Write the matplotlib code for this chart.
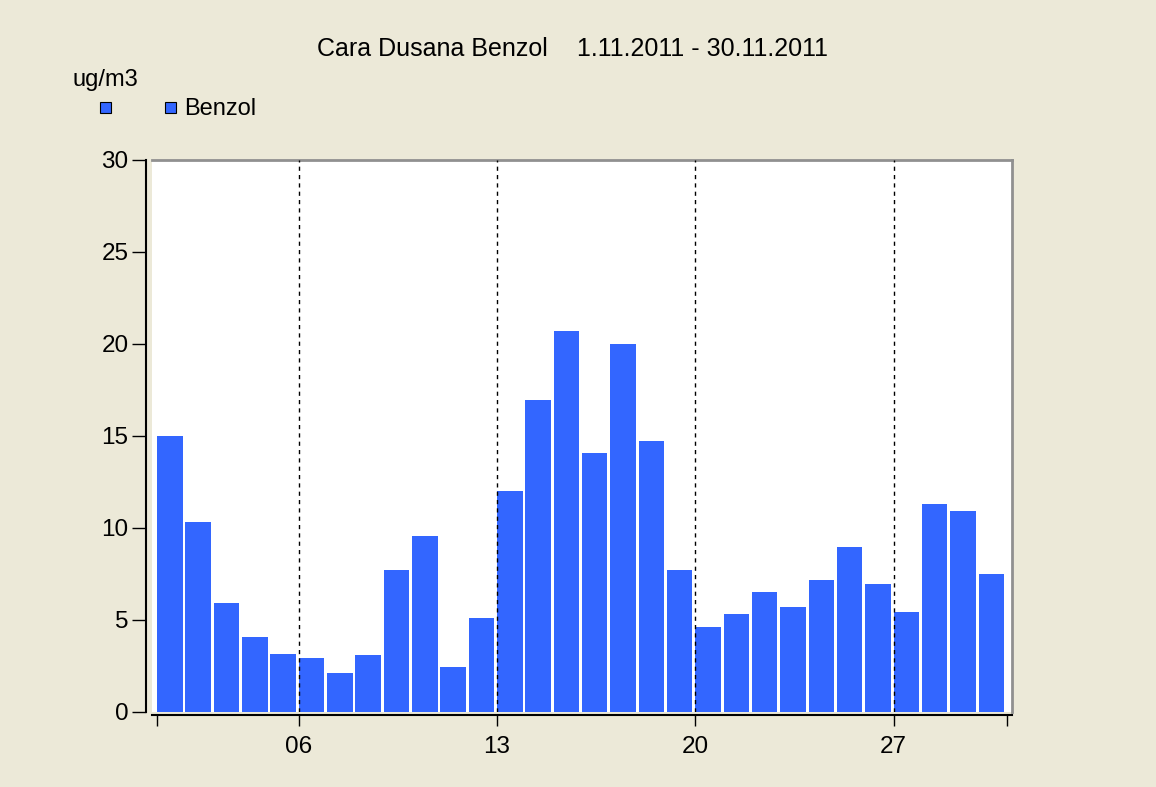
import matplotlib
matplotlib.use("Agg")
import matplotlib.pyplot as plt
from matplotlib.patches import Rectangle

plt.rcParams['font.family'] = ['Liberation Sans', 'DejaVu Sans']

days = list(range(1, 31))
benzol = [15.0, 10.35, 5.9, 4.1, 3.15, 2.95, 2.1, 3.1, 7.7, 9.55,
          2.45, 5.1, 12.0, 16.95, 20.7, 14.1, 20.0, 14.75, 7.7, 4.6,
          5.3, 6.5, 5.7, 7.15, 8.95, 6.95, 5.45, 11.3, 10.95, 7.5]
week_ticks = [6, 13, 20, 27]
week_labels = ['06', '13', '20', '27']

bg = '#ECE9D8'
bar_color = '#3366FF'

fig = plt.figure(figsize=(11.56, 7.87), dpi=100, facecolor=bg)
ax = fig.add_axes([0.1315, 0.0953, 0.7439, 0.7014])
ax.set_facecolor('white')

ax.bar(days, benzol, width=0.9, align='edge', color=bar_color, edgecolor='none', zorder=2)
for t in week_ticks:
    ax.axvline(t, color='black', linestyle=(0, (3, 3)), linewidth=1, zorder=3)

ax.set_xlim(0.82, 31.18)
ax.set_ylim(0, 30)
ax.set_yticks([0, 5, 10, 15, 20, 25, 30])
ax.set_xticks([1] + week_ticks + [31])
ax.set_xticklabels([''] + week_labels + [''])
ax.tick_params(axis='both', labelsize=17.5, width=1, color='black')
ax.tick_params(axis='x', length=8, pad=7)
ax.tick_params(axis='y', length=10, pad=3)

for s in ['top', 'right']:
    ax.spines[s].set_color('#909090')
    ax.spines[s].set_linewidth(2)
ax.spines['left'].set_position(('outward', 4))
ax.spines['bottom'].set_position(('outward', 2))
ax.spines['left'].set_linewidth(1.5)
ax.spines['bottom'].set_linewidth(1.5)

fig.text(0.2742, 0.938, 'Cara Dusana Benzol', ha='left', va='center', fontsize=18)
fig.text(0.4991, 0.938, '1.11.2011 - 30.11.2011', ha='left', va='center', fontsize=18)
fig.text(0.063, 0.898, 'ug/m3', ha='left', va='center', fontsize=17)
fig.patches.append(Rectangle((0.0865, 0.8565), 0.0095, 0.0138, transform=fig.transFigure,
                             facecolor=bar_color, edgecolor='black', linewidth=0.8))
fig.patches.append(Rectangle((0.1427, 0.8565), 0.0095, 0.0138, transform=fig.transFigure,
                             facecolor=bar_color, edgecolor='black', linewidth=0.8))
fig.text(0.159, 0.862, 'Benzol', ha='left', va='center', fontsize=17)

fig.savefig('out.png', dpi=100, facecolor=bg)
